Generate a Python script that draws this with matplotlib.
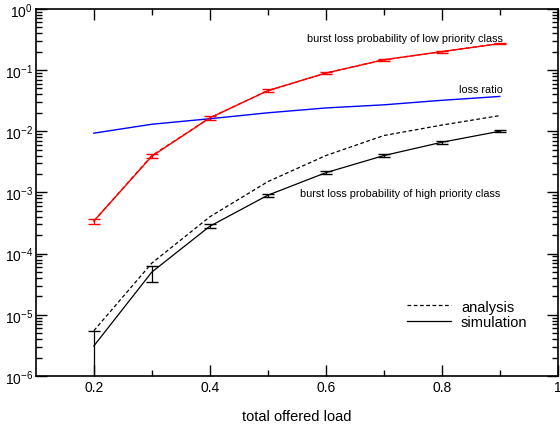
import numpy as np
import matplotlib
matplotlib.use("Agg")
import matplotlib.pyplot as plt
from matplotlib.lines import Line2D
from matplotlib.ticker import LogLocator, NullFormatter, FixedLocator

plt.rcParams['font.family'] = ['Liberation Sans', 'DejaVu Sans']
plt.rcParams['mathtext.fontset'] = 'custom'
plt.rcParams['mathtext.rm'] = 'Liberation Sans'
plt.rcParams['axes.unicode_minus'] = False

load = [0.2, 0.3, 0.4, 0.5, 0.6, 0.7, 0.8, 0.9]

# low priority class (red)
low_ana = [3.4e-4, 4.0e-3, 1.65e-2, 4.6e-2, 8.9e-2, 0.147, 0.20, 0.27]
low_sim = [3.4e-4, 3.9e-3, 1.65e-2, 4.6e-2, 8.9e-2, 0.147, 0.20, 0.27]
low_err = [0.35e-4, 0.3e-3, 0.1e-2, 0.25e-2, 0.4e-2, 0.006, 0.007, 0.008]

# loss ratio (blue)
ratio = [9.3e-3, 1.3e-2, 1.6e-2, 2.0e-2, 2.4e-2, 2.7e-2, 3.2e-2, 3.7e-2]

# high priority class (black)
high_ana = [5.5e-6, 7.0e-5, 4.0e-4, 1.5e-3, 4.0e-3, 8.5e-3, 1.26e-2, 1.8e-2]
high_sim = [3.1e-6, 5.0e-5, 2.8e-4, 9.0e-4, 2.1e-3, 4.0e-3, 6.6e-3, 1.0e-2]
high_lo = [2.5e-6, 1.5e-5, 0.2e-4, 0.5e-4, 0.1e-3, 0.2e-3, 0.3e-3, 0.4e-3]
high_hi = [2.4e-6, 1.3e-5, 0.2e-4, 0.5e-4, 0.1e-3, 0.2e-3, 0.3e-3, 0.4e-3]

fig = plt.figure(figsize=(5.6, 4.27), dpi=100)
ax = fig.add_axes([0.064, 0.117, 0.932, 0.860])

ax.plot(load, low_ana, color='red', ls='--', lw=1.0, dashes=(3, 2))
ax.errorbar(load, low_sim, yerr=low_err, color='red', lw=1.0, capsize=4, elinewidth=1.0)
ax.plot(load, ratio, color='blue', lw=1.0)
ax.plot(load, high_ana, color='black', lw=0.9, dashes=(3, 2))
ax.errorbar(load, high_sim, yerr=[high_lo, high_hi], color='black', lw=0.9,
            capsize=4, elinewidth=0.9)

ax.set_yscale('log')
ax.set_xlim(0.1, 1.0)
ax.set_ylim(1e-6, 1)

ax.xaxis.set_major_locator(FixedLocator([0.2, 0.4, 0.6, 0.8, 1.0]))
ax.xaxis.set_minor_locator(FixedLocator([0.3, 0.5, 0.7, 0.9]))
ax.set_xticklabels(['0.2', '0.4', '0.6', '0.8', '1'])
ax.yaxis.set_major_locator(LogLocator(base=10, numticks=10))
ax.yaxis.set_minor_locator(LogLocator(base=10, subs=np.arange(2, 10), numticks=20))
ax.yaxis.set_minor_formatter(NullFormatter())

ax.tick_params(which='both', direction='in', top=True, right=True, labelsize=10, width=1)
ax.tick_params(which='major', length=8)
ax.tick_params(which='minor', length=4)
ax.tick_params(axis='x', pad=3)
ax.tick_params(axis='y', pad=2)
for s in ax.spines.values():
    s.set_linewidth(1.2)

ax.set_xlabel('total offered load', fontsize=10.5, labelpad=11)

ax.text(0.905, 0.335, 'burst loss probability of low priority class', fontsize=7.8, ha='right', va='center')
ax.text(0.905, 0.0378 * 1.3, 'loss ratio', fontsize=7.8, ha='right', va='center')
ax.text(0.9, 0.98e-3, 'burst loss probability of high priority class', fontsize=7.8, ha='right', va='center')

handles = [Line2D([], [], color='black', lw=0.9, dashes=(3, 2)),
           Line2D([], [], color='black', lw=0.9)]
ax.legend(handles, ['analysis', 'simulation'], loc='lower left', bbox_to_anchor=(0.711, 0.128),
          frameon=False, fontsize=10.5, handlelength=3.0, handletextpad=0.7, labelspacing=0.1,
          borderpad=0, borderaxespad=0)

fig.savefig('out.png', dpi=100)
